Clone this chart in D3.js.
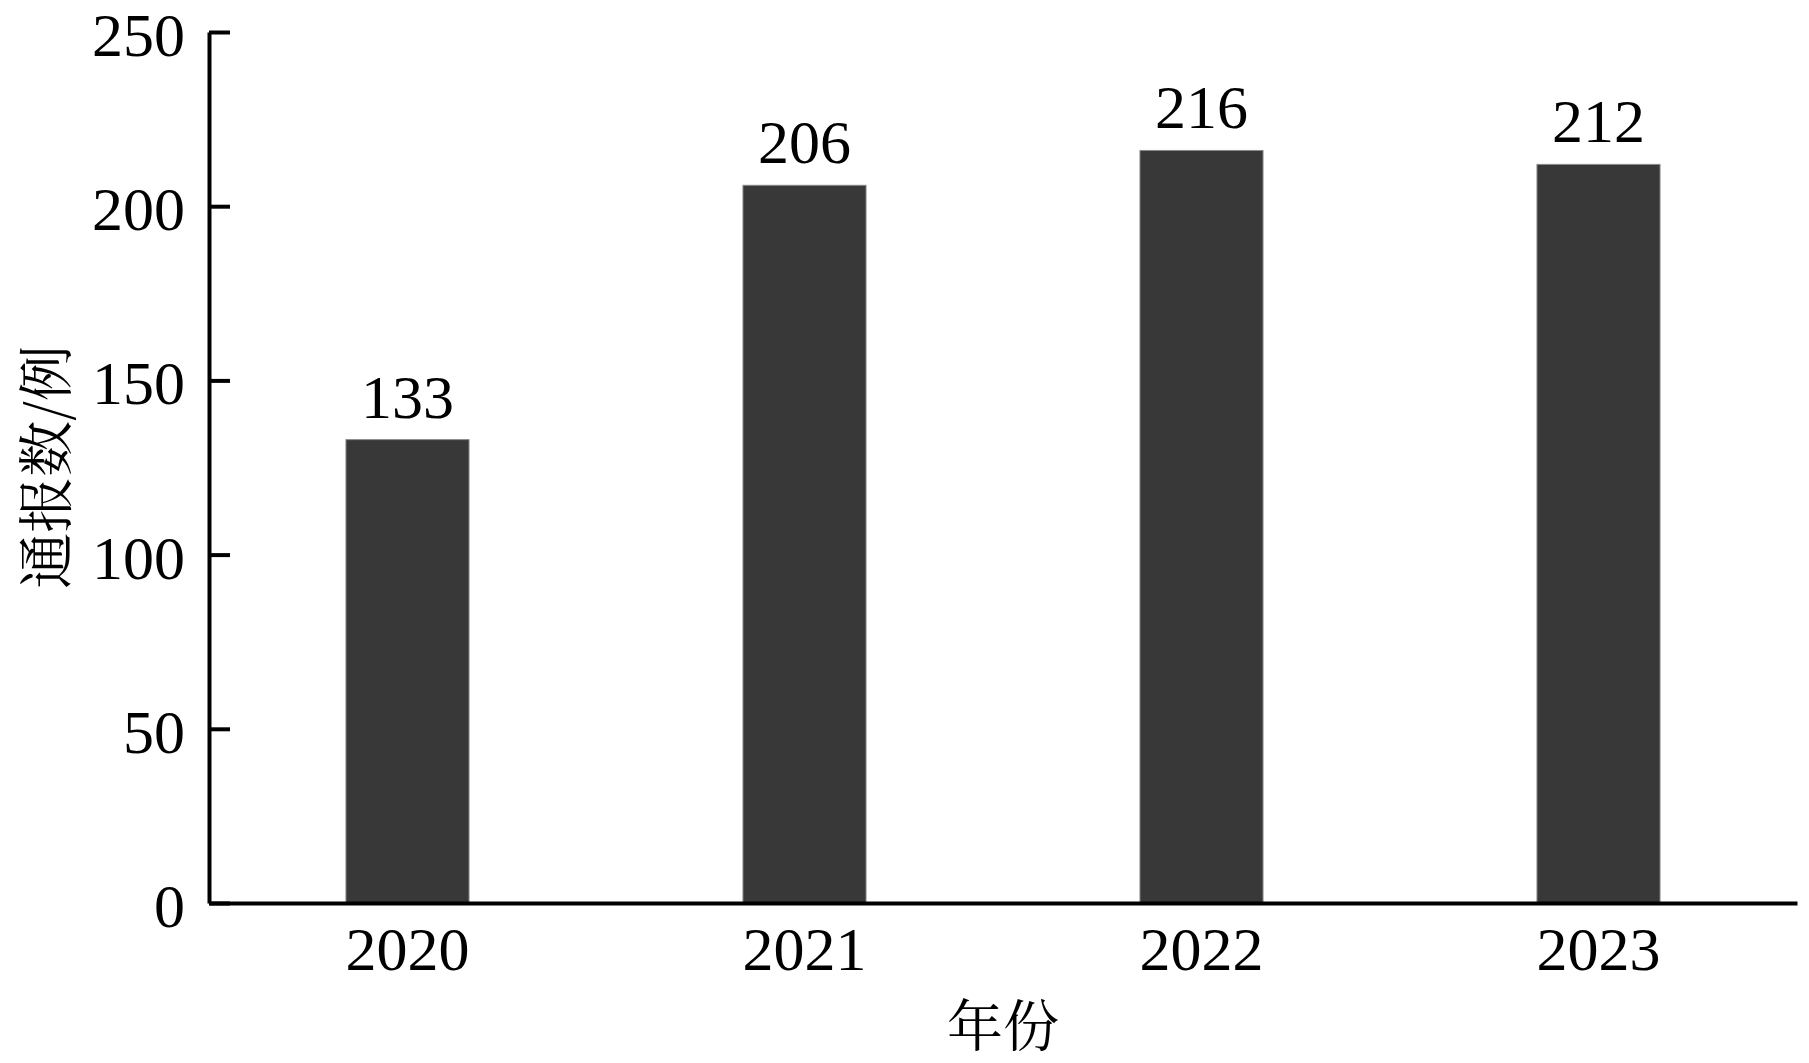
<!DOCTYPE html>
<html>
<head>
<meta charset="utf-8">
<script src="https://cdn.jsdelivr.net/npm/d3@7"></script>
<style>
  html, body { margin: 0; padding: 0; background: #fff; }
  svg { display: block; }
  .num { font-family: "Liberation Serif", "Times New Roman", serif; font-size: 62px; fill: #000; }
  .cjk { font-family: "Noto Serif CJK SC", "Noto Sans CJK SC", sans-serif; font-size: 56px; fill: #000; }
</style>
</head>
<body>
<script>
const categories = ["2020", "2021", "2022", "2023"];
const values = [133, 206, 216, 212];
const yTicks = [0, 50, 100, 150, 200, 250];
const xTitle = "年份";
const yTitle = "通报数/例";

const W = 1809, H = 1063;
const mLeft = 209, mRight = 1797, mTop = 32, mBottom = 903;

const svg = d3.select("body").append("svg").attr("width", W).attr("height", H);

const x = d3.scaleBand().domain(categories).range([mLeft, mRight])
  .paddingInner(0.69).paddingOuter(0.345);
const y = d3.scaleLinear().domain([0, 250]).range([mBottom, mTop]);

// bars
svg.append("g").selectAll("rect").data(values).join("rect")
  .attr("x", (d, i) => x(categories[i]))
  .attr("y", d => y(d))
  .attr("width", x.bandwidth())
  .attr("height", d => y(0) - y(d))
  .attr("fill", "#383838")
  .attr("stroke", "#8a8a8a")
  .attr("stroke-width", 1);

// value labels
svg.append("g").selectAll("text").data(values).join("text")
  .attr("class", "num")
  .attr("x", (d, i) => x(categories[i]) + x.bandwidth() / 2)
  .attr("y", d => y(d) - 22)
  .attr("text-anchor", "middle")
  .text(d => d);

// y axis
const gy = svg.append("g").attr("transform", `translate(${mLeft},0)`)
  .call(d3.axisLeft(y).tickValues(yTicks).tickSizeInner(-21).tickSizeOuter(0).tickPadding(24));
gy.selectAll("path, line").attr("stroke", "#000").attr("stroke-width", 4);
gy.selectAll("text").attr("class", "num").attr("dy", "0.38em");
gy.attr("font-size", null).attr("font-family", null);

// x axis
const gx = svg.append("g").attr("transform", `translate(0,${mBottom})`)
  .call(d3.axisBottom(x).tickSize(0).tickPadding(23));
gx.selectAll("path").attr("stroke", "#000").attr("stroke-width", 4);
gx.selectAll("text").attr("class", "num");
gx.attr("font-size", null).attr("font-family", null);

// titles
svg.append("text").attr("class", "cjk")
  .attr("x", (mLeft + mRight) / 2).attr("y", 1046)
  .attr("text-anchor", "middle").text(xTitle);

svg.append("text").attr("class", "cjk")
  .attr("transform", `translate(66,467) rotate(-90)`)
  .attr("text-anchor", "middle").text(yTitle);
</script>
</body>
</html>
